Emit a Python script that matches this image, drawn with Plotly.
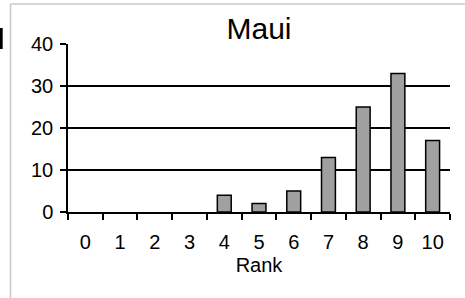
import plotly.graph_objects as go

ranks = ["0", "1", "2", "3", "4", "5", "6", "7", "8", "9", "10"]
counts = [0, 0, 0, 0, 4, 2, 5, 13, 25, 33, 17]
y_ticks = [0, 10, 20, 30, 40]
title_text = "Maui"
x_title = "Rank"

W, H = 465, 298
L, R, T, B = 68, 15, 44, 86
pw, ph = W - L - R, H - T - B

fig = go.Figure()
fig.add_trace(go.Bar(
    x=ranks, y=[v if v else None for v in counts],
    marker=dict(color="#a0a0a0", line=dict(color="#000000", width=1.5)),
    width=0.4,
))

def px(x):
    return (x - L) / pw

def py(y):
    return (H - B - y) / ph

fig.update_layout(
    width=W, height=H,
    margin=dict(l=L, r=R, t=T, b=B, autoexpand=False),
    paper_bgcolor="white", plot_bgcolor="white",
    showlegend=False,
    font=dict(family="Liberation Sans, Arial, sans-serif", color="#000000"),
    title=dict(text=title_text, xref="container", x=259 / W, xanchor="center",
               yref="container", y=1 - 28 / H, yanchor="middle",
               font=dict(size=30, color="#000000")),
    xaxis=dict(
        type="category", range=[-0.5, 10.5],
        tickson="boundaries", ticks="outside", ticklen=6, tickwidth=1.5,
        tickcolor="#000000", showgrid=False, showline=True,
        linecolor="#000000", linewidth=1.5,
        tickfont=dict(size=20), ticklabelstandoff=11,
        title=dict(text=x_title, font=dict(size=20), standoff=6),
        fixedrange=True,
    ),
    yaxis=dict(
        range=[0, 40], tickvals=y_ticks, ticks="outside", ticklen=6, tickwidth=1.5,
        tickcolor="#000000", showgrid=True, gridcolor="#000000", gridwidth=1.5,
        showline=True, linecolor="#000000", linewidth=1.5, zeroline=False,
        tickfont=dict(size=20), ticklabelstandoff=3, fixedrange=True,
    ),
    shapes=[
        dict(type="line", xref="paper", yref="paper",
             x0=px(10.5), x1=px(10.5), y0=py(4), y1=py(H),
             line=dict(color="#c8c8c8", width=1.5)),
        dict(type="line", xref="paper", yref="paper",
             x0=px(10.5), x1=px(W), y0=py(4), y1=py(4),
             line=dict(color="#c8c8c8", width=1.5)),
        dict(type="rect", xref="paper", yref="paper",
             x0=px(0), x1=px(2.7), y0=py(49), y1=py(28),
             fillcolor="#000000", line=dict(width=0)),
    ],
)

fig.write_html("out.html", config={"displayModeBar": False},
               post_script="document.body.style.margin='0';")
